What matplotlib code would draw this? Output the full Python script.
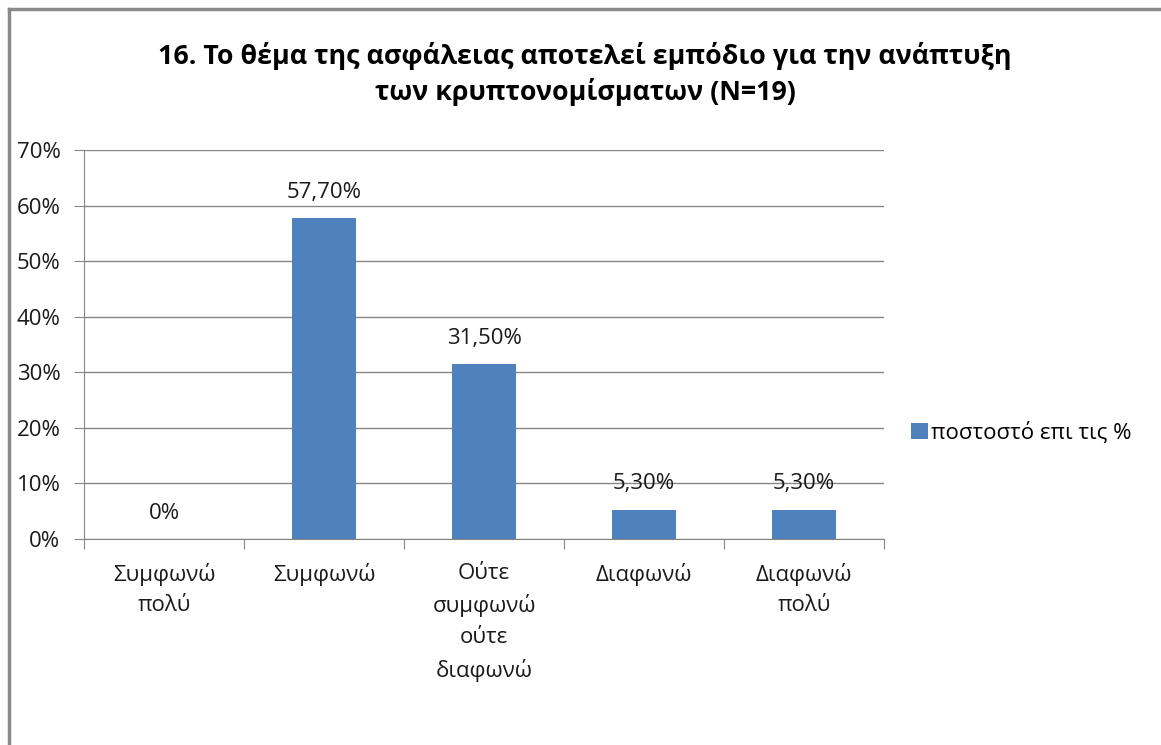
import matplotlib.pyplot as plt
from matplotlib.lines import Line2D
from matplotlib.patches import Patch

plt.rcParams['font.family'] = ['Open Sans', 'DejaVu Sans']

categories = ["Συμφωνώ\nπολύ", "Συμφωνώ", "Ούτε\nσυμφωνώ\nούτε\nδιαφωνώ", "Διαφωνώ", "Διαφωνώ\nπολύ"]
values = [0.0, 57.7, 31.5, 5.3, 5.3]
value_labels = ["0%", "57,70%", "31,50%", "5,30%", "5,30%"]
yticks = [0, 10, 20, 30, 40, 50, 60, 70]
series_name = "ποστοστό επι τις %"
title = "16. Το θέμα της ασφάλειας αποτελεί εμπόδιο για την ανάπτυξη\nτων κρυπτονομίσματων (N=19)"

W, H = 1161, 745
fig = plt.figure(figsize=(W / 100, H / 100), dpi=100)
fig.patch.set_facecolor('white')

fs = 16
txt_color = '#1a1a1a'

# plot area in pixel coords
left, right, top, bottom = 84, 884, 150, 539
ax = fig.add_axes([left / W, 1 - bottom / H, (right - left) / W, (bottom - top) / H])

bar_color = '#4F81BD'
grid_color = '#868686'
x = list(range(len(categories)))
ax.bar(x, values, width=0.4, color=bar_color, zorder=3)

ax.set_xlim(-0.5, len(categories) - 0.5)
ax.set_ylim(0, 70)
ax.set_yticks(yticks)
ax.set_yticklabels([f"{t}%" for t in yticks], fontsize=fs, color=txt_color)
ax.yaxis.grid(True, color=grid_color, linewidth=1, zorder=0)

ax.set_xticks([i - 0.5 for i in range(len(categories) + 1)], minor=False)
ax.set_xticklabels([])
ax.set_xticks(x, minor=True)
ax.set_xticklabels(categories, minor=True, fontsize=fs, color=txt_color, linespacing=1.6)
ax.tick_params(axis='x', which='minor', length=0, pad=17)
ax.tick_params(axis='x', which='major', length=7, color=grid_color, direction='out')
ax.tick_params(axis='y', length=7, color=grid_color, direction='out', pad=10)

for side in ['top', 'right']:
    ax.spines[side].set_visible(False)
for side in ['left', 'bottom']:
    ax.spines[side].set_color(grid_color)
    ax.spines[side].set_zorder(4)

for xi, v, lab in zip(x, values, value_labels):
    ax.annotate(lab, (xi, v), xytext=(0, 11), textcoords='offset points',
                ha='center', va='bottom', fontsize=fs, color=txt_color)

fig.text(585 / W, 1 - 74 / H, title, ha='center', va='center', fontsize=19.3,
         fontweight='bold', linespacing=1.4, color='black')

handle = Patch(facecolor=bar_color, edgecolor='none')
fig.legend([handle], [series_name], loc='center left', bbox_to_anchor=(891 / W, 1 - 433 / H),
           frameon=False, fontsize=fs, handlelength=0.75, handleheight=0.75, handletextpad=0.15)

# outer chart border (left and top edges)
fig.add_artist(Line2D([8.5 / W, 8.5 / W], [0, 1 - 8.5 / H], color='#8a8a8a', linewidth=2.5))
fig.add_artist(Line2D([8.5 / W, 1], [1 - 8.5 / H, 1 - 8.5 / H], color='#8a8a8a', linewidth=2.5))

fig.savefig('out.png', dpi=100)
